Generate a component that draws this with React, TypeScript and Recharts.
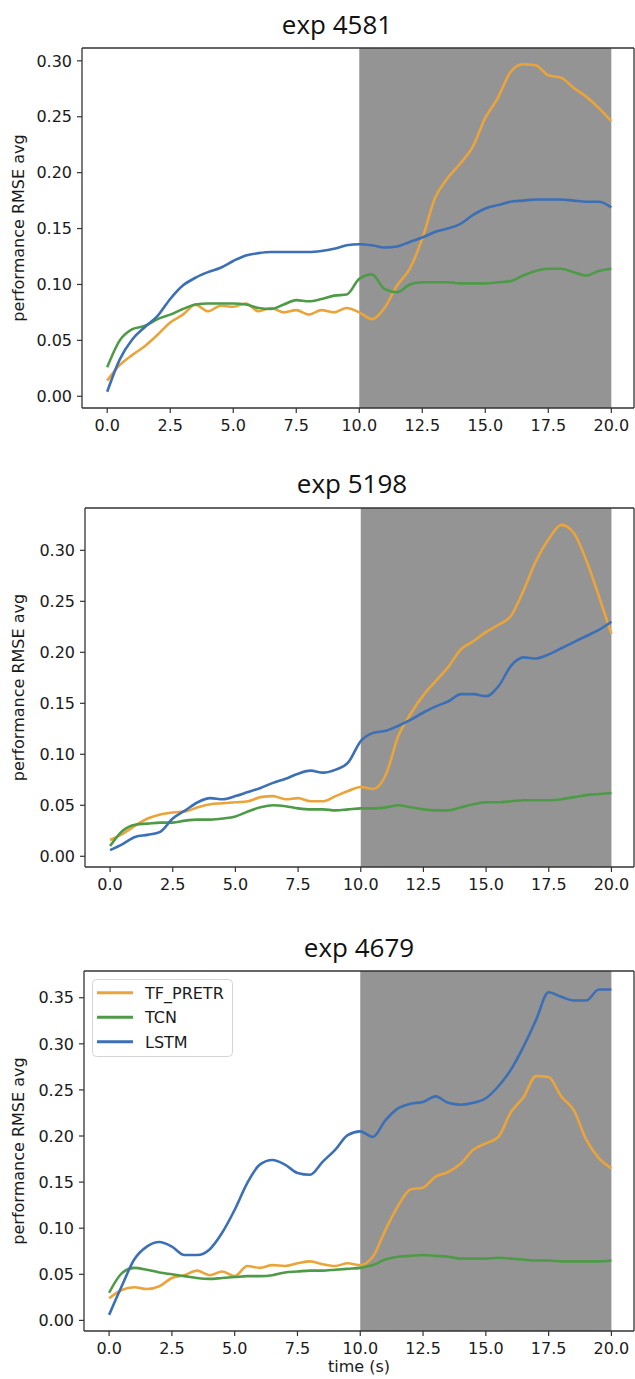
import React from "react";
import { LineChart, Line, XAxis, YAxis, ReferenceArea, Legend } from "recharts";

const TIME = [0, 0.5, 1, 1.5, 2, 2.5, 3, 3.5, 4, 4.5, 5, 5.5, 6, 6.5, 7, 7.5, 8, 8.5, 9, 9.5, 10, 10.5, 11, 11.5, 12, 12.5, 13, 13.5, 14, 14.5, 15, 15.5, 16, 16.5, 17, 17.5, 18, 18.5, 19, 19.5, 20];
const X_TICKS = [0, 2.5, 5, 7.5, 10, 12.5, 15, 17.5, 20];
const Y_TICKS_A = [0, 0.05, 0.1, 0.15, 0.2, 0.25, 0.3];
const Y_TICKS_B = [0, 0.05, 0.1, 0.15, 0.2, 0.25, 0.3, 0.35];
const TITLES = ["exp 4581", "exp 5198", "exp 4679"];
const SERIES_NAMES = ["TF_PRETR", "TCN", "LSTM"];

// exp 4581
const TF_4581 = [0.014, 0.028, 0.037, 0.045, 0.055, 0.066, 0.073, 0.082, 0.076, 0.081, 0.080, 0.083, 0.076, 0.079, 0.075, 0.077, 0.073, 0.077, 0.075, 0.079, 0.075, 0.069, 0.079, 0.099, 0.114, 0.141, 0.177, 0.195, 0.208, 0.223, 0.249, 0.267, 0.290, 0.297, 0.296, 0.287, 0.285, 0.276, 0.268, 0.258, 0.246];
const TCN_4581 = [0.026, 0.050, 0.060, 0.063, 0.069, 0.073, 0.078, 0.082, 0.083, 0.083, 0.083, 0.082, 0.079, 0.078, 0.082, 0.086, 0.085, 0.087, 0.090, 0.091, 0.105, 0.109, 0.096, 0.093, 0.100, 0.102, 0.102, 0.102, 0.101, 0.101, 0.101, 0.102, 0.103, 0.108, 0.112, 0.114, 0.114, 0.111, 0.108, 0.112, 0.114];
const LSTM_4581 = [0.004, 0.033, 0.051, 0.062, 0.072, 0.087, 0.099, 0.106, 0.111, 0.115, 0.121, 0.126, 0.128, 0.129, 0.129, 0.129, 0.129, 0.130, 0.132, 0.135, 0.136, 0.135, 0.133, 0.134, 0.138, 0.142, 0.147, 0.150, 0.154, 0.162, 0.168, 0.171, 0.174, 0.175, 0.176, 0.176, 0.176, 0.175, 0.174, 0.174, 0.169];

// exp 5198
const TF_5198 = [0.016, 0.022, 0.030, 0.037, 0.041, 0.043, 0.044, 0.048, 0.051, 0.052, 0.053, 0.054, 0.058, 0.059, 0.056, 0.057, 0.054, 0.054, 0.059, 0.064, 0.068, 0.066, 0.080, 0.118, 0.140, 0.158, 0.172, 0.186, 0.203, 0.211, 0.220, 0.227, 0.236, 0.261, 0.290, 0.311, 0.325, 0.317, 0.290, 0.255, 0.218];
const TCN_5198 = [0.010, 0.025, 0.031, 0.032, 0.033, 0.033, 0.035, 0.036, 0.036, 0.037, 0.039, 0.044, 0.048, 0.050, 0.049, 0.047, 0.046, 0.046, 0.045, 0.046, 0.047, 0.047, 0.048, 0.050, 0.048, 0.046, 0.045, 0.045, 0.048, 0.051, 0.053, 0.053, 0.054, 0.055, 0.055, 0.055, 0.056, 0.058, 0.060, 0.061, 0.062];
const LSTM_5198 = [0.006, 0.012, 0.019, 0.021, 0.024, 0.037, 0.045, 0.053, 0.057, 0.056, 0.059, 0.063, 0.067, 0.072, 0.076, 0.081, 0.084, 0.082, 0.085, 0.092, 0.113, 0.121, 0.123, 0.128, 0.134, 0.141, 0.147, 0.152, 0.159, 0.159, 0.157, 0.167, 0.187, 0.195, 0.194, 0.198, 0.204, 0.210, 0.216, 0.222, 0.230];

// exp 4679
const TF_4679 = [0.024, 0.033, 0.036, 0.034, 0.037, 0.046, 0.049, 0.054, 0.049, 0.053, 0.048, 0.059, 0.057, 0.060, 0.059, 0.062, 0.064, 0.061, 0.059, 0.062, 0.060, 0.069, 0.098, 0.124, 0.142, 0.144, 0.156, 0.161, 0.170, 0.185, 0.192, 0.199, 0.226, 0.242, 0.265, 0.264, 0.243, 0.228, 0.196, 0.176, 0.165];
const TCN_4679 = [0.030, 0.051, 0.057, 0.055, 0.052, 0.050, 0.048, 0.046, 0.045, 0.046, 0.047, 0.048, 0.048, 0.049, 0.052, 0.053, 0.054, 0.054, 0.055, 0.056, 0.057, 0.060, 0.066, 0.069, 0.070, 0.071, 0.070, 0.069, 0.067, 0.067, 0.067, 0.068, 0.067, 0.066, 0.065, 0.065, 0.064, 0.064, 0.064, 0.064, 0.065];
const LSTM_4679 = [0.006, 0.037, 0.066, 0.080, 0.085, 0.080, 0.071, 0.071, 0.077, 0.095, 0.120, 0.149, 0.169, 0.174, 0.169, 0.160, 0.158, 0.172, 0.185, 0.201, 0.205, 0.199, 0.217, 0.230, 0.235, 0.237, 0.243, 0.236, 0.234, 0.236, 0.241, 0.254, 0.272, 0.297, 0.326, 0.356, 0.351, 0.347, 0.347, 0.359, 0.359];

const ORANGE = "#eba43a";
const GREEN = "#4e9b47";
const BLUE = "#3b6fb6";
const SHADE = "#959494";
const FRAME = "#333333";
const TEXT = "#1a1a1a";
const TICK_FONT = "'DejaVu Sans', sans-serif";
const TITLE_FONT = "'Open Sans', sans-serif";

const build = (tf: number[], tcn: number[], lstm: number[]) =>
  TIME.map((t, i) => ({ t, TF_PRETR: tf[i], TCN: tcn[i], LSTM: lstm[i] }));

const LegendBox = (props: any) => {
  const payload = props.payload || [];
  return (
    <svg width={141} height={78} style={{ display: "block" }}>
      <rect x={0.5} y={0.5} width={140} height={77} rx={4} ry={4} fill="rgba(255,255,255,0.85)" stroke="#d4d4d4" strokeWidth={1} />
      {payload.map((p: any, i: number) => {
        const cy = 13.7 + i * 24.5;
        return (
          <g key={p.value}>
            <line x1={5} x2={41} y1={cy} y2={cy} stroke={p.color} strokeWidth={3} />
            <text x={53} y={cy + 5.8} fontSize={16} fontFamily={TICK_FONT} fill={TEXT}>
              {p.value}
            </text>
          </g>
        );
      })}
    </svg>
  );
};

type PanelProps = {
  top: number;
  height: number;
  marginTop: number;
  yAxisWidth: number;
  xAxisHeight: number;
  title: string;
  titleX: number;
  titleY: number;
  yDomain: [number, number];
  yTicks: number[];
  data: any[];
  showLegend?: boolean;
  xLabel?: string;
};

const Panel = (p: PanelProps) => {
  const axisLine = { stroke: FRAME, strokeWidth: 1.3 };
  const tickStyle = { fontSize: 16, fill: TEXT, fontFamily: TICK_FONT };
  return (
    <div style={{ position: "absolute", left: 0, top: p.top, width: 635, height: p.height }}>
      <LineChart width={635} height={p.height} data={p.data} margin={{ top: p.marginTop - 1, right: 0, bottom: 0, left: 0 }}>
        <ReferenceArea x1={10} x2={20} fill={SHADE} fillOpacity={1} stroke="none" />
        <XAxis
          dataKey="t"
          type="number"
          domain={[-1, 20.9]}
          ticks={X_TICKS}
          interval={0}
          allowDataOverflow
          tickFormatter={(v: number) => v.toFixed(1)}
          height={p.xAxisHeight}
          tickSize={5}
          tickMargin={7}
          axisLine={axisLine}
          tickLine={{ stroke: FRAME, strokeWidth: 1.2 }}
          tick={tickStyle}
        />
        <XAxis
          xAxisId="top"
          dataKey="t"
          type="number"
          orientation="top"
          domain={[-1, 20.9]}
          allowDataOverflow
          height={1}
          tick={false}
          tickLine={false}
          axisLine={axisLine}
        />
        <YAxis
          type="number"
          domain={p.yDomain}
          ticks={p.yTicks}
          interval={0}
          allowDataOverflow
          tickFormatter={(v: number) => v.toFixed(2)}
          width={p.yAxisWidth}
          tickSize={5}
          tickMargin={5}
          axisLine={axisLine}
          tickLine={{ stroke: FRAME, strokeWidth: 1.2 }}
          tick={tickStyle}
          label={(lp: any) => {
            const vb = lp.viewBox || {};
            const cx = (vb.x || 0) + 24;
            const cy = (vb.y || 0) + (vb.height || 0) / 2;
            return (
              <text x={cx} y={cy} transform={`rotate(-90, ${cx}, ${cy})`} textAnchor="middle" fontSize={16} fontFamily={TICK_FONT} fill={TEXT}>
                performance RMSE avg
              </text>
            );
          }}
        />
        <YAxis
          yAxisId="r"
          orientation="right"
          type="number"
          domain={p.yDomain}
          allowDataOverflow
          width={1}
          tick={false}
          tickLine={false}
          axisLine={axisLine}
        />
        {p.showLegend && (
          <Legend
            layout="vertical"
            align="center"
            verticalAlign="middle"
            itemSorter={(item: any) => SERIES_NAMES.indexOf(item.value)}
            content={<LegendBox />}
            wrapperStyle={{ left: 92, top: 69, width: 141, height: 78, right: "auto", bottom: "auto" }}
          />
        )}
        <Line dataKey="TF_PRETR" name={SERIES_NAMES[0]} type="monotone" stroke={ORANGE} strokeWidth={2.6} dot={false} isAnimationActive={false} />
        <Line dataKey="TCN" name={SERIES_NAMES[1]} type="monotone" stroke={GREEN} strokeWidth={2.6} dot={false} isAnimationActive={false} />
        <Line dataKey="LSTM" name={SERIES_NAMES[2]} type="monotone" stroke={BLUE} strokeWidth={2.6} dot={false} isAnimationActive={false} />
      </LineChart>
      <svg width={635} height={p.height} style={{ position: "absolute", left: 0, top: 0, pointerEvents: "none" }}>
        <text x={p.titleX} y={p.titleY} textAnchor="middle" fontSize={26} fontFamily={TITLE_FONT} fill="#111">
          {p.title}
        </text>
        {p.xLabel && (
          <text x={359} y={462} textAnchor="middle" fontSize={16} fontFamily={TICK_FONT} fill={TEXT}>
            {p.xLabel}
          </text>
        )}
      </svg>
    </div>
  );
};

export default function App() {
  return (
    <div style={{ position: "absolute", left: 0, top: 0, width: 635, height: 1379, background: "#fff", overflow: "hidden" }}>
      <Panel
        top={0}
        height={460}
        marginTop={48}
        yAxisWidth={82}
        xAxisHeight={52}
        title={TITLES[0]}
        titleX={337}
        titleY={34}
        yDomain={[-0.0105, 0.3115]}
        yTicks={Y_TICKS_A}
        data={build(TF_4581, TCN_4581, LSTM_4581)}
      />
      <Panel
        top={460}
        height={450}
        marginTop={48}
        yAxisWidth={85}
        xAxisHeight={43}
        title={TITLES[1]}
        titleX={352}
        titleY={33}
        yDomain={[-0.0105, 0.3415]}
        yTicks={Y_TICKS_A}
        data={build(TF_5198, TCN_5198, LSTM_5198)}
      />
      <Panel
        top={910}
        height={469}
        marginTop={61}
        yAxisWidth={84}
        xAxisHeight={48}
        title={TITLES[2]}
        titleX={359}
        titleY={47}
        yDomain={[-0.0115, 0.379]}
        yTicks={Y_TICKS_B}
        data={build(TF_4679, TCN_4679, LSTM_4679)}
        showLegend
        xLabel="time (s)"
      />
    </div>
  );
}
